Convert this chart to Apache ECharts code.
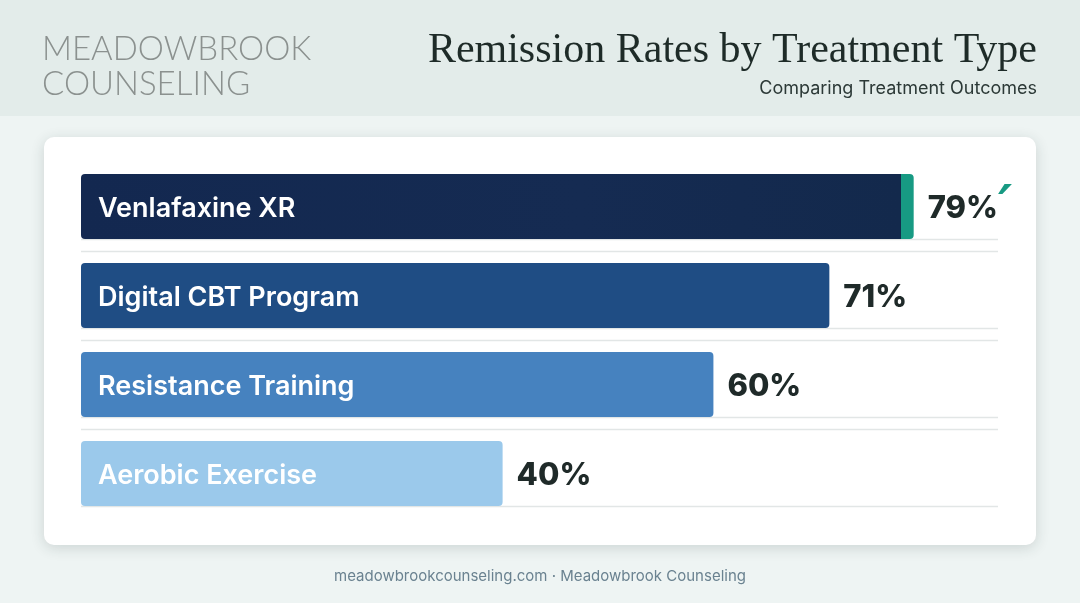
<!DOCTYPE html>
<html>
<head>
<meta charset="utf-8">
<script src="https://cdn.jsdelivr.net/npm/echarts@6/dist/echarts.min.js"></script>
<style>
html,body{margin:0;padding:0;background:#eef4f3;}
#c{width:1080px;height:603px;}
</style>
</head>
<body>
<div id="c"></div>
<script>
const categories = ['Venlafaxine XR', 'Digital CBT Program', 'Resistance Training', 'Aerobic Exercise'];
const remissionRates = [79, 71, 60, 40];
const barColors = ['#142a50', '#1f4d84', '#4682bf', '#9bc9eb'];
const highlightColor = '#179a83';
const titleText = 'Remission Rates by Treatment Type';
const subtitleText = 'Comparing Treatment Outcomes';
const brandLines = ['MEADOWBROOK', 'COUNSELING'];
const footerText = 'meadowbrookcounseling.com · Meadowbrook Counseling';
const axisMax = 87;

const chart = echarts.init(document.getElementById('c'), null, {renderer: 'canvas'});

const staticGraphics = [
  {id: 'bg', type: 'rect', shape: {x: 0, y: 0, width: 1080, height: 603}, style: {fill: '#eef4f3'}, z: -20, silent: true},
  {id: 'hdr', type: 'rect', shape: {x: 0, y: 0, width: 1080, height: 116}, style: {fill: '#e3ecea'}, z: -19, silent: true},
  {id: 'card', type: 'rect', shape: {x: 44, y: 137, width: 992, height: 408, r: 10},
    style: {fill: '#ffffff', shadowBlur: 14, shadowColor: 'rgba(30,50,50,0.16)', shadowOffsetY: 3}, z: -18, silent: true},
  {id: 'brand1', type: 'text', left: 42, top: 33, z: 5,
    style: {text: brandLines[0], font: '300 33px Lato, "Open Sans", sans-serif', fill: '#8b918f'}},
  {id: 'brand2', type: 'text', left: 42, top: 68, z: 5,
    style: {text: brandLines[1], font: '300 33px Lato, "Open Sans", sans-serif', fill: '#8b918f'}},
  {id: 'title', type: 'text', right: 43, top: 30, z: 5,
    style: {text: titleText, font: '42px "Liberation Serif", "DejaVu Serif", serif', fill: '#1e2b28'}},
  {id: 'sub', type: 'text', right: 43, top: 80, z: 5,
    style: {text: subtitleText, font: '18px Inter, "Noto Sans", sans-serif', fill: '#2c3937'}},
  {id: 'foot', type: 'text', left: 'center', top: 569, z: 5,
    style: {text: footerText, font: '15px Inter, "Noto Sans", sans-serif', fill: '#6a8290'}}
];

const option = {
  animation: false,
  backgroundColor: 'transparent',
  graphic: staticGraphics,
  grid: {left: 81, right: 82, top: 162, height: 356, containLabel: false},
  xAxis: {type: 'value', min: 0, max: axisMax, show: false},
  yAxis: {type: 'category', data: categories, inverse: true, show: false},
  series: [
    {
      type: 'bar',
      barWidth: 65,
      z: 3,
      data: remissionRates.map((v, i) => ({
        value: v,
        itemStyle: {
          borderRadius: 4,
          color: i === 0 ? {
            type: 'linear', x: 0, y: 0, x2: 1, y2: 0,
            colorStops: [
              {offset: 0, color: '#132850'},
              {offset: 0.6, color: '#152b52'},
              {offset: 0.985, color: '#13294c'},
              {offset: 0.985, color: highlightColor},
              {offset: 1, color: highlightColor}
            ]
          } : barColors[i]
        }
      })),
      label: {
        show: true,
        position: 'insideLeft',
        distance: 17,
        offset: [0, 2],
        formatter: p => p.name,
        color: '#ffffff',
        fontFamily: 'Inter, "Noto Sans", sans-serif',
        fontWeight: 600,
        fontSize: 27
      }
    },
    {
      type: 'bar',
      barWidth: 65,
      barGap: '-100%',
      z: 2,
      silent: true,
      data: remissionRates,
      itemStyle: {color: 'rgba(0,0,0,0)'},
      label: {
        show: true,
        position: 'right',
        distance: 14,
        offset: [0, 2],
        formatter: p => p.dataIndex === 0 ? '{v|' + p.value + '%}{t|′}' : '{v|' + p.value + '%}',
        rich: {
          v: {color: '#1f2a29', fontFamily: 'Inter, "Noto Sans", sans-serif', fontWeight: 800, fontSize: 31},
          t: {color: highlightColor, fontFamily: '"DejaVu Sans", sans-serif', fontWeight: 'bold', fontStyle: 'italic', fontSize: 54, padding: [0, 0, 0, 0]}
        }
      }
    }
  ]
};

chart.setOption(option);

// separator lines drawn from the axis scales
const lines = [];
const xL = chart.convertToPixel({xAxisIndex: 0}, 0);
const xR = chart.convertToPixel({xAxisIndex: 0}, axisMax);
const step = chart.convertToPixel({yAxisIndex: 0}, categories[1]) - chart.convertToPixel({yAxisIndex: 0}, categories[0]);
categories.forEach((c, i) => {
  const yc = chart.convertToPixel({yAxisIndex: 0}, c);
  const yb = Math.round(yc + 65 / 2) + 0.5;
  lines.push({id: 'lb' + i, type: 'line', shape: {x1: xL, y1: yb, x2: xR, y2: yb},
    style: {stroke: '#e2e6e6', lineWidth: 1.5}, z: 1, silent: true});
  if (i < categories.length - 1) {
    const ys = Math.round(yc + step / 2) + 0.5;
    lines.push({id: 'ls' + i, type: 'line', shape: {x1: xL, y1: ys, x2: xR, y2: ys},
      style: {stroke: '#e2e6e6', lineWidth: 1.5}, z: 1, silent: true});
  }
});
chart.setOption({graphic: staticGraphics.concat(lines)});
</script>
</body>
</html>
